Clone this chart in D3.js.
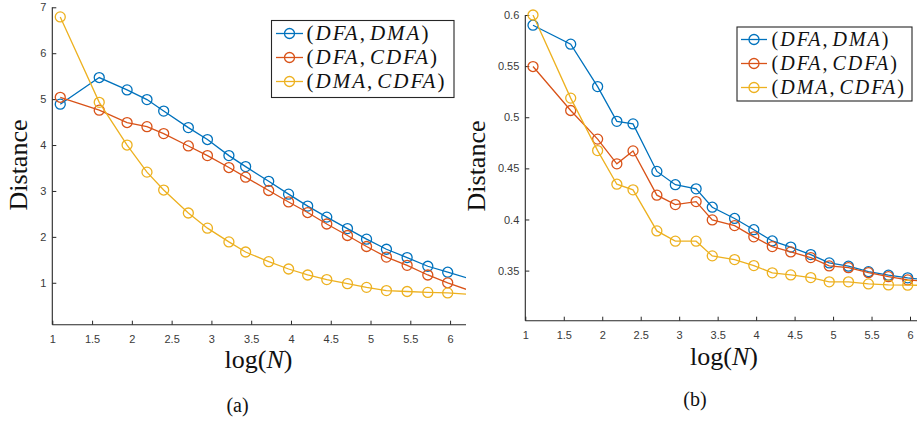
<!DOCTYPE html>
<html><head><meta charset="utf-8">
<script src="https://cdn.jsdelivr.net/npm/d3@7"></script>
<style>
html,body{margin:0;padding:0;background:#fff;}
svg{display:block;}
</style></head>
<body>
<svg id="chart" width="917" height="423"></svg>
<script>
// ---------- data ----------
// x = log(N); the last point lies beyond the axis limit (line runs off the plot edge)
const logN = [1.10, 1.59, 1.94, 2.19, 2.40, 2.71, 2.95, 3.22, 3.43, 3.72, 3.97, 4.21, 4.45, 4.71, 4.95, 5.20, 5.46, 5.72, 5.97, 6.46];
const seriesNames = ["(DFA, DMA)", "(DFA, CDFA)", "(DMA, CDFA)"];
const seriesColors = ["#0072BD", "#D95319", "#EDB120"];

// panel (a)
const a_DFA_DMA  = [4.89, 5.47, 5.20, 4.99, 4.74, 4.38, 4.12, 3.77, 3.53, 3.21, 2.93, 2.67, 2.43, 2.18, 1.95, 1.73, 1.55, 1.36, 1.23, 0.98];
const a_DFA_CDFA = [5.04, 4.76, 4.49, 4.40, 4.25, 3.98, 3.77, 3.51, 3.30, 3.01, 2.76, 2.53, 2.28, 2.03, 1.79, 1.56, 1.38, 1.17, 1.00, 0.70];
const a_DMA_CDFA = [6.79, 4.93, 4.00, 3.41, 3.02, 2.52, 2.19, 1.89, 1.67, 1.46, 1.30, 1.17, 1.07, 0.98, 0.90, 0.83, 0.81, 0.79, 0.78, 0.72];

// panel (b)
const b_DFA_DMA  = [0.590, 0.5715, 0.530, 0.496, 0.4935, 0.447, 0.434, 0.430, 0.412, 0.401, 0.390, 0.379, 0.373, 0.3657, 0.3575, 0.3543, 0.349, 0.3455, 0.3429, 0.339];
const b_DFA_CDFA = [0.5496, 0.5066, 0.4786, 0.4544, 0.4671, 0.4238, 0.4146, 0.4175, 0.3996, 0.394, 0.383, 0.3735, 0.3683, 0.3627, 0.3546, 0.3529, 0.348, 0.3441, 0.3409, 0.338];
const b_DMA_CDFA = [0.600, 0.5187, 0.4674, 0.4345, 0.429, 0.3888, 0.3788, 0.3788, 0.3644, 0.3608, 0.3549, 0.3478, 0.3458, 0.3432, 0.339, 0.339, 0.337, 0.336, 0.3357, 0.3355];

const xTicks = [1, 1.5, 2, 2.5, 3, 3.5, 4, 4.5, 5, 5.5, 6];
const xTickLabels = ["1", "1.5", "2", "2.5", "3", "3.5", "4", "4.5", "5", "5.5", "6"];
const aYTicks = [1, 2, 3, 4, 5, 6, 7];
const bYTicks = [0.35, 0.4, 0.45, 0.5, 0.55, 0.6];
const bYTickLabels = ["0.35", "0.4", "0.45", "0.5", "0.55", "0.6"];

// ---------- drawing ----------
const svg = d3.select("#chart");
const AX = "#262626";
const tickFont = "'Liberation Sans', Arial, sans-serif";
const serif = "'Liberation Serif', 'Times New Roman', serif";

function addMathText(sel, str, size, spacing) {
  for (const ch of str) {
    if (ch === " ") continue;
    const t = sel.append("tspan").text(ch);
    if ("(),".includes(ch)) t.attr("font-style", "normal");
    else t.attr("font-style", "italic");
    if (ch === ",") t.attr("dx", 0);
  }
  sel.selectAll("tspan").filter(function(){ return this.previousSibling && this.previousSibling.textContent === ","; })
    .attr("dx", 3);
  sel.attr("font-size", size).attr("letter-spacing", spacing);
}

function panel(cfg) {
  const x = d3.scaleLinear().domain([1, 6.2]).range(cfg.xr);
  const y = d3.scaleLinear().domain(cfg.yd).range(cfg.yr);
  const g = svg.append("g");
  const id = "clip" + cfg.name;
  svg.append("defs").append("clipPath").attr("id", id)
    .append("rect").attr("x", cfg.xr[0]).attr("y", cfg.yr[1])
    .attr("width", cfg.xr[1] - cfg.xr[0]).attr("height", cfg.yr[0] - cfg.yr[1]);

  // axes
  const xAxis = d3.axisBottom(x).tickValues(xTicks).tickSize(-4)
    .tickFormat((d, i) => xTickLabels[i]);
  const gx = g.append("g").attr("transform", `translate(0,${cfg.yr[0]})`).call(xAxis);
  const yAxis = d3.axisLeft(y).tickValues(cfg.yTicks).tickSize(-4)
    .tickFormat((d, i) => cfg.yLabels[i]);
  const gy = g.append("g").attr("transform", `translate(${cfg.xr[0]},0)`).call(yAxis);
  [gx, gy].forEach(a => {
    a.select(".domain").remove();
    a.selectAll(".tick line").attr("stroke", AX).attr("stroke-width", 1);
    a.selectAll(".tick text").attr("fill", "#3a3a3a").attr("font-family", tickFont)
      .attr("font-size", 11);
  });
  g.append("line").attr("x1", cfg.xr[0]).attr("x2", cfg.xr[1])
    .attr("y1", cfg.yr[0]).attr("y2", cfg.yr[0]).attr("stroke", AX).attr("stroke-width", 1.1);
  g.append("line").attr("x1", cfg.xr[0]).attr("x2", cfg.xr[0])
    .attr("y1", cfg.yr[0]).attr("y2", cfg.yr[1]).attr("stroke", AX).attr("stroke-width", 1.1);
  gx.selectAll(".tick text").attr("y", cfg.xLabDy).attr("dy", "0");
  gy.selectAll(".tick text").attr("x", -6);

  // series
  const line = d3.line().x((d, i) => x(logN[i])).y(d => y(d));
  cfg.series.forEach((vals, k) => {
    g.append("path").datum(vals).attr("d", line)
      .attr("fill", "none").attr("stroke", seriesColors[k]).attr("stroke-width", 1.3)
      .attr("clip-path", `url(#${id})`);
    g.selectAll(null).data(vals.map((v, i) => [logN[i], v]).filter(d => d[0] <= 6.2))
      .enter().append("circle")
      .attr("cx", d => x(d[0])).attr("cy", d => y(d[1])).attr("r", 5)
      .attr("fill", "none").attr("stroke", seriesColors[k]).attr("stroke-width", 1.3);
  });

  // y label
  g.append("text").attr("transform", `translate(${cfg.ylab[0]},${cfg.ylab[1]}) rotate(-90)`)
    .attr("text-anchor", "middle").attr("font-family", serif).attr("font-size", 26)
    .attr("fill", "#111").text("Distance");
  // x label log(N)
  const xl = g.append("text").attr("x", cfg.xlab[0]).attr("y", cfg.xlab[1])
    .attr("text-anchor", "middle").attr("font-family", serif).attr("font-size", 26).attr("fill", "#111");
  xl.append("tspan").text("log(");
  xl.append("tspan").attr("font-style", "italic").text("N");
  xl.append("tspan").text(")");
  // caption
  g.append("text").attr("x", cfg.cap[0]).attr("y", cfg.cap[1]).attr("text-anchor", "middle")
    .attr("font-family", serif).attr("font-size", 20).attr("fill", "#111").text(cfg.caption);

  // legend
  const L = cfg.leg;
  g.append("rect").attr("x", L.x).attr("y", L.y).attr("width", L.w).attr("height", L.h)
    .attr("fill", "#fff").attr("stroke", AX).attr("stroke-width", 1.1);
  seriesNames.forEach((nm, k) => {
    const ry = L.rows[k];
    g.append("line").attr("x1", L.l1).attr("x2", L.l2).attr("y1", ry).attr("y2", ry)
      .attr("stroke", seriesColors[k]).attr("stroke-width", 1.3);
    g.append("circle").attr("cx", (L.l1 + L.l2) / 2).attr("cy", ry).attr("r", 5)
      .attr("fill", "none").attr("stroke", seriesColors[k]).attr("stroke-width", 1.3);
    const t = g.append("text").attr("x", L.tx).attr("y", ry + 6.5)
      .attr("font-family", serif).attr("fill", "#111");
    addMathText(t, nm, L.fs, L.ls);
  });
}

panel({
  name: "a", xr: [52.3, 466], yd: [0.087, 7], yr: [324.7, 7.3],
  yTicks: aYTicks, yLabels: aYTicks.map(String), xLabDy: 18,
  series: [a_DFA_DMA, a_DFA_CDFA, a_DMA_CDFA],
  ylab: [26.5, 165], xlab: [258.5, 368], cap: [237.5, 412], caption: "(a)",
  leg: {x: 271.5, y: 20.5, w: 182.5, h: 77, rows: [33.5, 57.5, 81.5], l1: 276, l2: 303, tx: 306.5, fs: 21, ls: 2}
});
panel({
  name: "b", xr: [525.3, 925.4], yd: [0.301, 0.6], yr: [320.7, 15],
  yTicks: bYTicks, yLabels: bYTickLabels, xLabDy: 18,
  series: [b_DFA_DMA, b_DFA_CDFA, b_DMA_CDFA],
  ylab: [485, 166], xlab: [724, 365], cap: [695, 406], caption: "(b)",
  leg: {x: 737, y: 27, w: 175, h: 74, rows: [39.5, 63.5, 87.5], l1: 741, l2: 767, tx: 771.5, fs: 20, ls: 2}
});
</script>
</body></html>
